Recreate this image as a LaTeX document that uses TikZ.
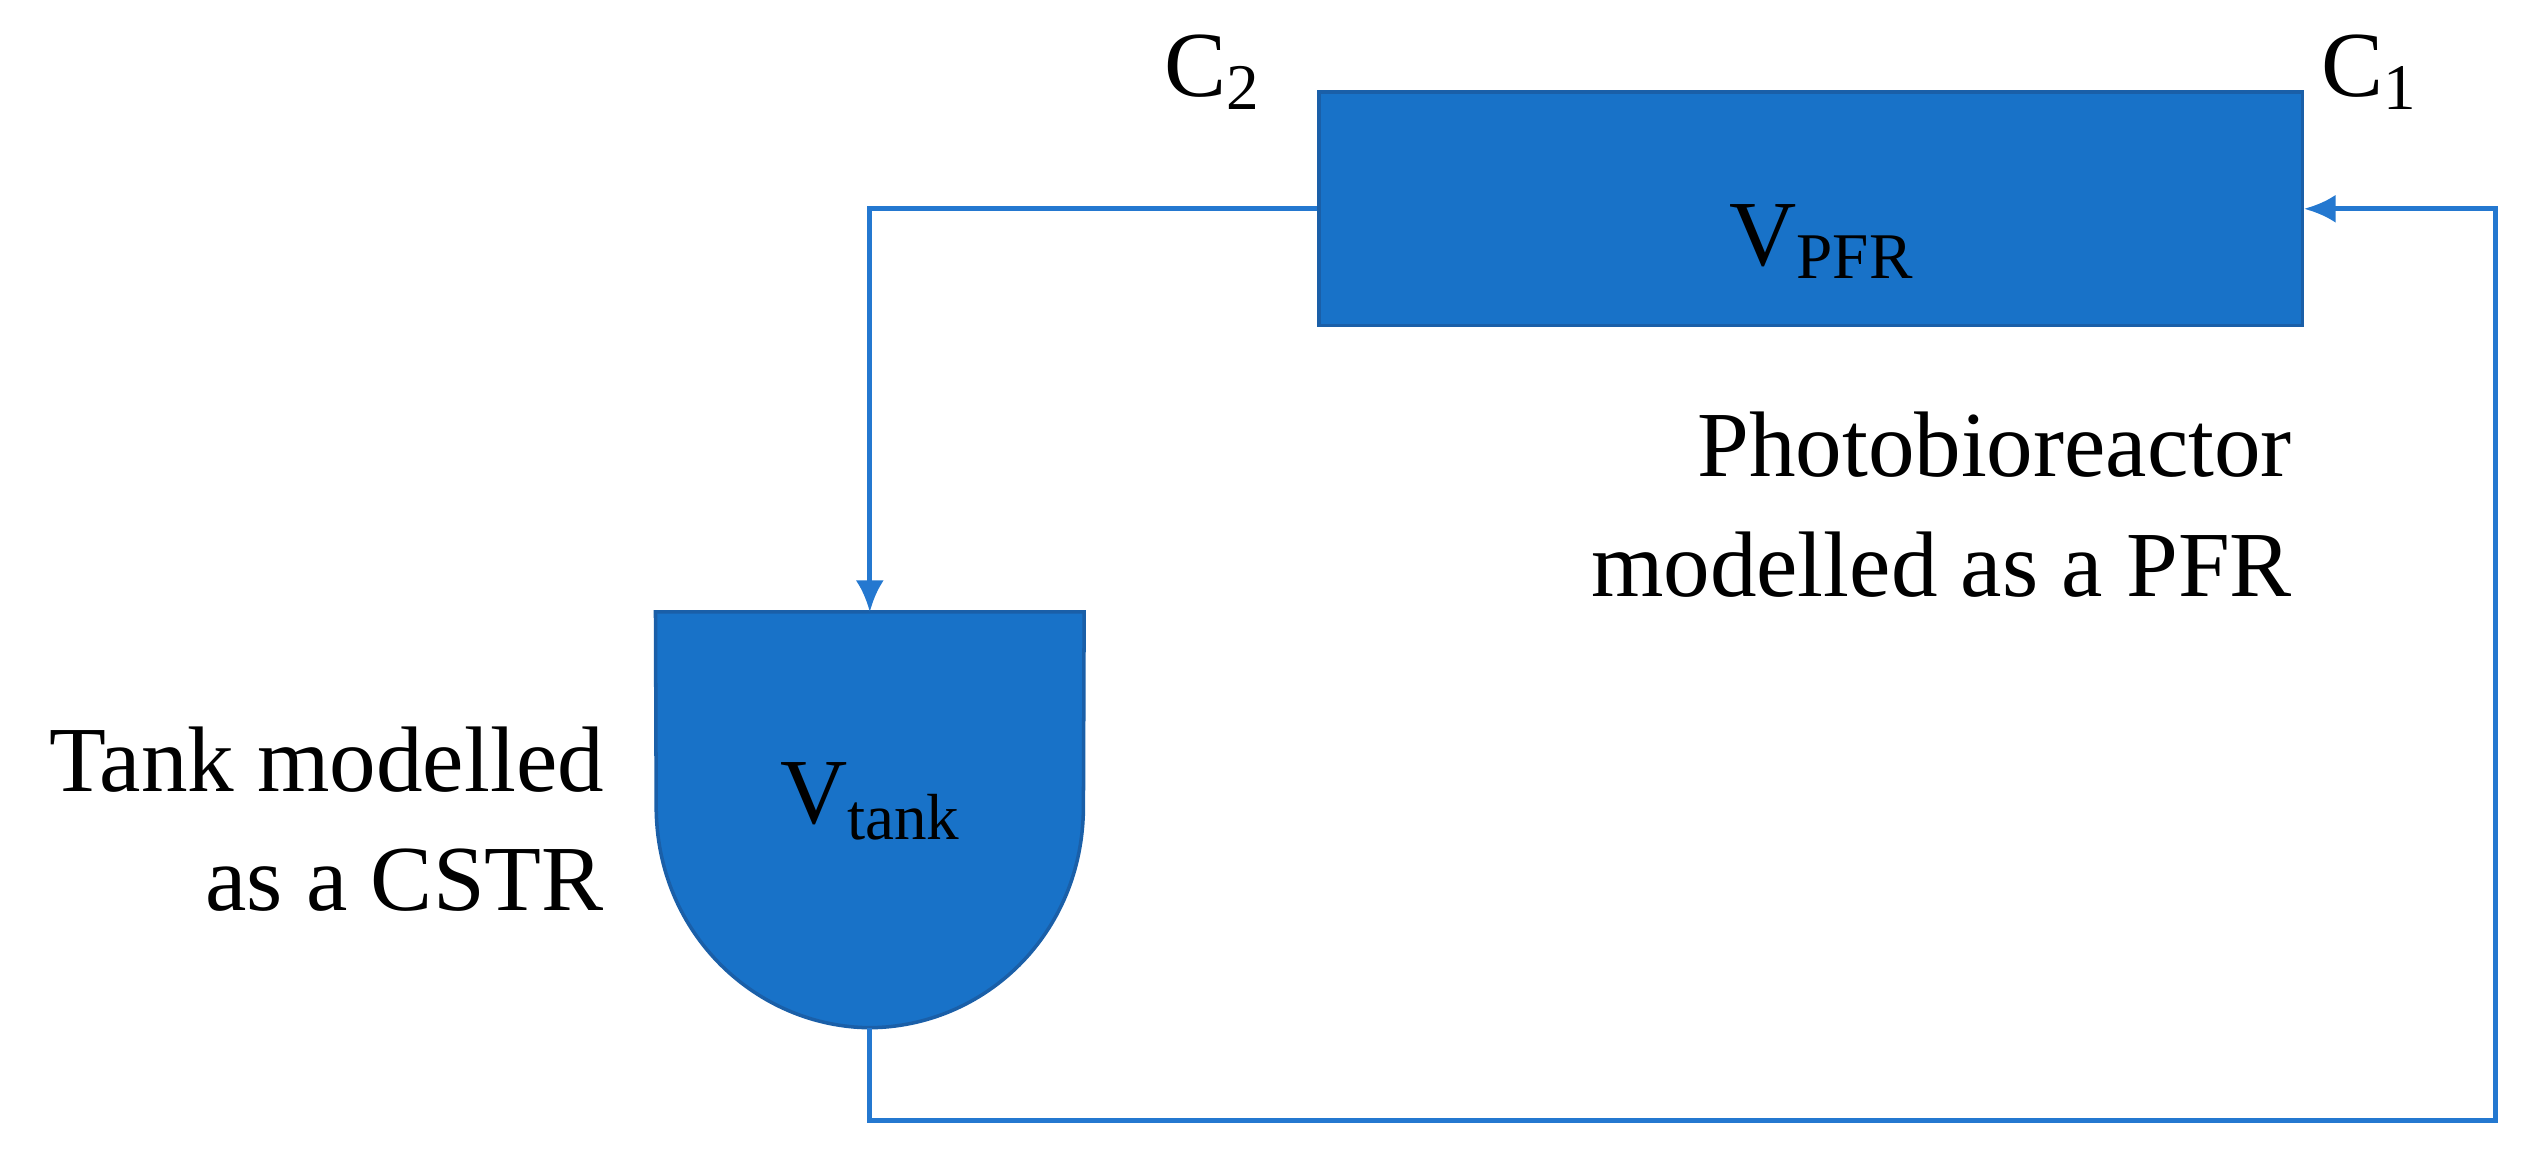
\documentclass[tikz,border=0pt]{standalone}
\usepackage{fontspec}
\setmainfont{Liberation Serif}
\usetikzlibrary{arrows.meta,positioning}
\definecolor{unitblue}{HTML}{1872C8}
\definecolor{edgeblue}{HTML}{1A5FA8}
\definecolor{pipeblue}{HTML}{2478D0}
\tikzset{
    % pipe style
    pipe/.style={draw=pipeblue, line width=1.4pt},
    flow/.style={pipe, -{Latex[length=9pt,width=8pt]}},
    % labels
    lbl/.style={font=\fontsize{26.5}{34}\selectfont, align=right, inner sep=0pt},
}
\begin{document}
\begin{tikzpicture}[x=0.016122cm, y=-0.016122cm]
\useasboundingbox (0,0) rectangle (1568,720);
%Nodes
\node[draw=edgeblue, fill=unitblue, line width=1pt, minimum width=610*0.016122cm,
      minimum height=145*0.016122cm, inner sep=0pt] (pfr) at (1123,129.5) {};
\node[lbl] (vpfr) at (1130,150) {V\textsubscript{PFR}};
\node[inner sep=0pt, minimum width=265*0.016122cm, minimum height=257*0.016122cm] (tank) at (539.5,508.5) {};
\draw[draw=edgeblue, fill=unitblue, line width=1pt]
  (tank.north west) -- (tank.north east) -- (672,500)
  .. controls (672,580) and (610,637) .. (tank.south)
  .. controls (470,637) and (407,580) .. (407,500) -- cycle;
\node[lbl] (vtank) at (540,497) {V\textsubscript{tank}};
\node[lbl] (c2) at (752,45) {C\textsubscript{2}};
\node[lbl] (c1) at (1470,45) {C\textsubscript{1}};
\node[lbl, anchor=east] (tanklbl) at (375,508) {Tank modelled\\as a CSTR};
\node[lbl, anchor=east] (pfrlbl) at (1422,313) {Photobioreactor\\modelled as a PFR};
\coordinate (br) at (1548,695);
%Pipes
\draw[flow] (pfr.west) -| (tank.north);
\draw[flow] (tank.south) |- (br) |- (pfr.east);
\end{tikzpicture}
\end{document}
